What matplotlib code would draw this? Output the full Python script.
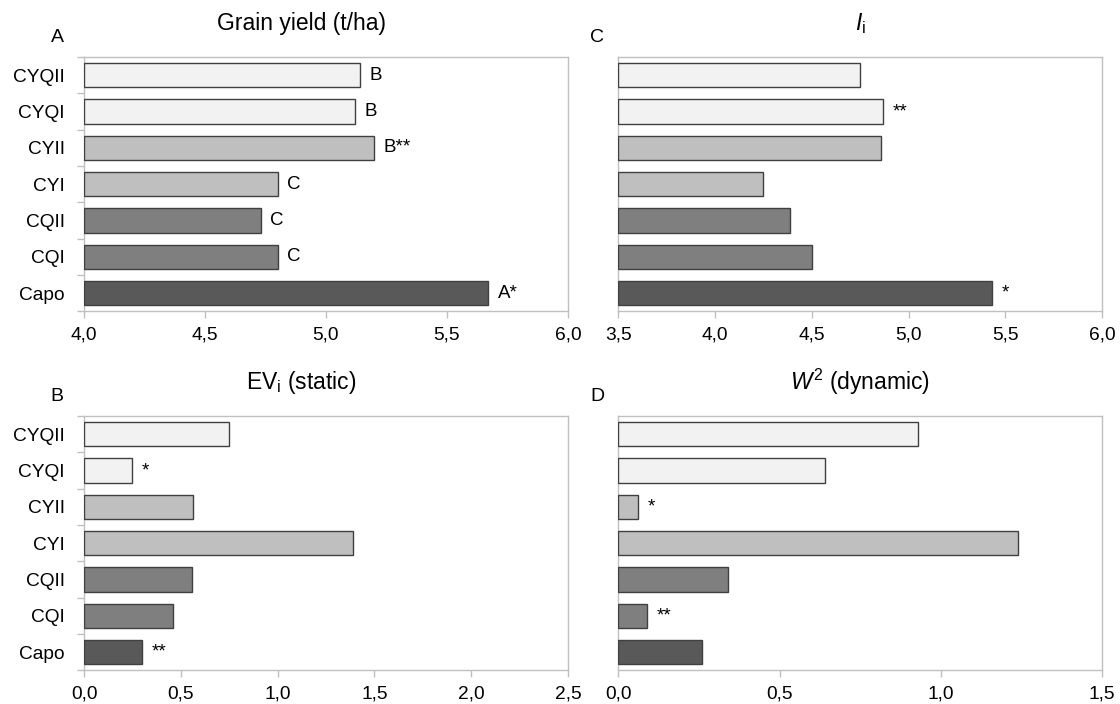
import numpy as np
import matplotlib.pyplot as plt

plt.rcParams['font.family'] = ['Liberation Sans', 'DejaVu Sans']
plt.rcParams['mathtext.fontset'] = 'custom'
plt.rcParams['mathtext.rm'] = 'Liberation Sans'
plt.rcParams['mathtext.it'] = 'Liberation Sans:italic'

# Data
genotypes = ['CYQII', 'CYQI', 'CYII', 'CYI', 'CQII', 'CQI', 'Capo']
bar_colors = ['#f2f2f2', '#f2f2f2', '#bfbfbf', '#bfbfbf', '#7f7f7f', '#7f7f7f', '#595959']

grain_yield = [5.14, 5.12, 5.20, 4.80, 4.73, 4.80, 5.67]
grain_marks = ['B', 'B', 'B**', 'C', 'C', 'C', 'A*']

ev_static = [0.75, 0.25, 0.565, 1.39, 0.56, 0.46, 0.30]
ev_marks = ['', '*', '', '', '', '', '**']

ii_index = [4.75, 4.87, 4.86, 4.25, 4.39, 4.50, 5.43]
ii_marks = ['', '**', '', '', '', '', '*']

w2_dynamic = [0.93, 0.64, 0.06, 1.24, 0.34, 0.09, 0.26]
w2_marks = ['', '', '*', '', '', '**', '']

panels = [
    # values, marks, xlim, ticks, title, letter, axes rect, show y labels
    (grain_yield, grain_marks, (4.0, 6.0), np.arange(4.0, 6.01, 0.5), 'Grain yield (t/ha)', 'A',
     [0.075, 0.558, 0.432, 0.361], True),
    (ev_static, ev_marks, (0.0, 2.5), np.arange(0.0, 2.51, 0.5), r'EV$_\mathrm{i}$ (static)', 'B',
     [0.075, 0.048, 0.432, 0.361], True),
    (ii_index, ii_marks, (3.5, 6.0), np.arange(3.5, 6.01, 0.5), r'$\mathit{I}_\mathrm{i}$', 'C',
     [0.552, 0.558, 0.432, 0.361], False),
    (w2_dynamic, w2_marks, (0.0, 1.5), np.arange(0.0, 1.51, 0.5), r'$\mathit{W}^2$ (dynamic)', 'D',
     [0.552, 0.048, 0.432, 0.361], False),
]

fig = plt.figure(figsize=(11.2, 7.04), dpi=100)
frame_col = '#c0c0c0'

for vals, marks, xlim, ticks, title, letter, rect, ylab in panels:
    ax = fig.add_axes(rect)
    y = np.arange(len(genotypes))
    left = xlim[0]
    ax.barh(y, np.array(vals) - left, left=left, height=0.67, color=bar_colors,
            edgecolor='#404040', linewidth=1.0, zorder=3)
    for yi, v, m in zip(y, vals, marks):
        if m:
            ax.text(v + (xlim[1] - xlim[0]) * 0.02, yi, m, ha='left', va='center', fontsize=13.5)
    ax.set_xlim(*xlim)
    ax.set_ylim(len(genotypes) - 0.5, -0.5)
    ax.set_xticks(ticks)
    ax.set_xticklabels([('%.1f' % t).replace('.', ',') for t in ticks], fontsize=13.8)
    ax.set_yticks(y)
    if ylab:
        ax.set_yticklabels(genotypes, fontsize=13.8)
    else:
        ax.set_yticklabels([])
    ax.set_yticks(np.arange(-0.5, len(genotypes), 1.0), minor=True)
    ax.tick_params(axis='y', which='major', length=0, pad=14)
    ax.tick_params(axis='y', which='minor', length=5 if ylab else 0, color=frame_col, width=1)
    ax.tick_params(axis='x', length=5, color=frame_col, width=1, pad=6)
    for s in ax.spines.values():
        s.set_color(frame_col)
        s.set_linewidth(1.0)

    bbox = ax.get_position()
    cx = bbox.x0 + bbox.width / 2 - (0.022 if ylab else 0)
    fig.text(cx, bbox.y1 + 0.048, title, ha='center', va='center', fontsize=16.5)
    fig.text(bbox.x0 - (0.024 if ylab else 0.019), bbox.y1 + 0.028, letter, ha='center', va='center',
             fontsize=14)

plt.savefig('out.png', dpi=100)
